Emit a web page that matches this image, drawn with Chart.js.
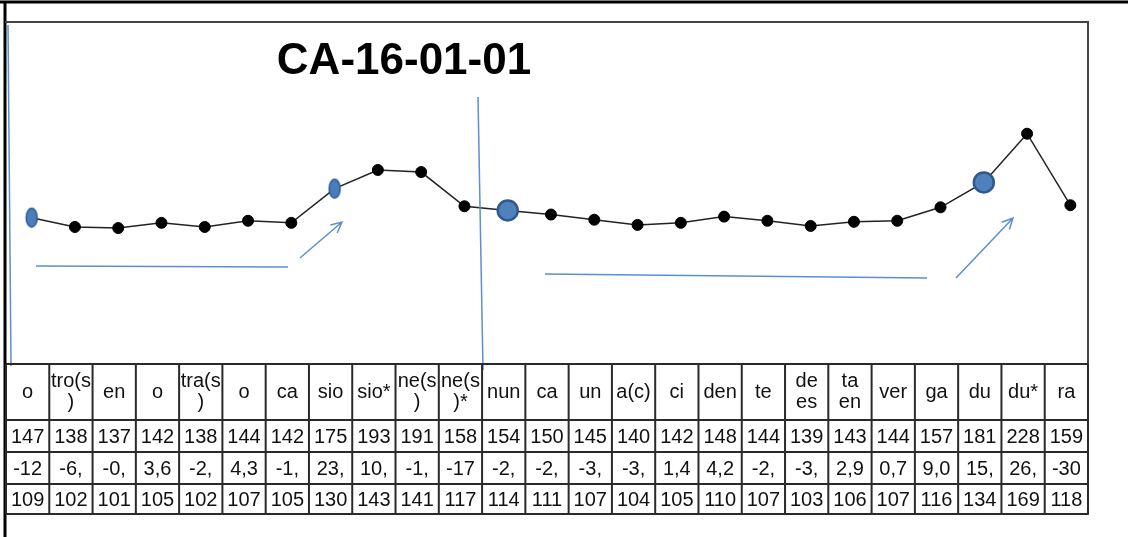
<!DOCTYPE html>
<html>
<head>
<meta charset="utf-8">
<script src="https://cdn.jsdelivr.net/npm/chart.js@4.4.1/dist/chart.umd.min.js"></script>
<style>
    html, body { margin: 0; padding: 0; background: #fff; }
    #wrap { position: relative; width: 1128px; height: 537px; }
</style>
</head>
<body>
<div id="wrap">
    <canvas id="caChart" width="1128" height="537"></canvas>
</div>
<script>
// данные
const chartTitle = 'CA-16-01-01';
const categories = [['o'], ['tro(s', ')'], ['en'], ['o'], ['tra(s', ')'], ['o'], ['ca'], ['sio'], ['sio*'],
    ['ne(s', ')'], ['ne(s', ')*'], ['nun'], ['ca'], ['un'], ['a(c)'], ['ci'], ['den'], ['te'],
    ['de', 'es'], ['ta', 'en'], ['ver'], ['ga'], ['du'], ['du*'], ['ra']];
const values = [147, 138, 137, 142, 138, 144, 142, 175, 193, 191, 158, 154, 150, 145, 140, 142, 148, 144, 139, 143, 144, 157, 181, 228, 159];
const changeRow = ['-12', '-6,', '-0,', '3,6', '-2,', '4,3', '-1,', '23,', '10,', '-1,', '-17', '-2,', '-2,', '-3,', '-3,',
    '1,4', '4,2', '-2,', '-3,', '2,9', '0,7', '9,0', '15,', '26,', '-30'];
const indexRow = [109, 102, 101, 105, 102, 107, 105, 130, 143, 141, 117, 114, 111, 107, 104, 105, 110, 107, 103, 106, 107, 116, 134, 169, 118];
const ovalPoints = [0, 7];
const bigPoints = [11, 22];
const yMin = 0;
const yMax = 330;

// овальный маркер
function makeOval() {
    const c = document.createElement('canvas');
    c.width = 16;
    c.height = 24;
    const g = c.getContext('2d');
    g.beginPath();
    g.ellipse(8, 12, 5.5, 9.5, 0, 0, Math.PI * 2);
    g.fillStyle = '#4a7ebb';
    g.fill();
    g.lineWidth = 1.5;
    g.strokeStyle = '#2f5a8e';
    g.stroke();
    return c;
}
const oval = makeOval();

const FONT = '"Liberation Sans", Arial, sans-serif';
const TABLE_SHIFT = -4;
const rowLines = [364, 420, 452, 484, 514];

const decorPlugin = {
    id: 'decor',
    beforeDraw(chart) {
        const ctx = chart.ctx;
        ctx.save();
        ctx.fillStyle = '#fff';
        ctx.fillRect(0, 0, chart.width, chart.height);
        ctx.restore();
    },
    afterDatasetsDraw(chart) {
        const ctx = chart.ctx;
        ctx.save();
        ctx.strokeStyle = '#5b8fcf';
        ctx.lineWidth = 1.5;
        const segs = [
            [8, 25, 11, 366],
            [478, 97, 483, 370],
            [36, 266, 288, 267],
            [545, 274, 927, 278]
        ];
        segs.forEach(s => {
            ctx.beginPath();
            ctx.moveTo(s[0], s[1]);
            ctx.lineTo(s[2], s[3]);
            ctx.stroke();
        });
        const arrows = [[300, 258, 342, 222], [956, 278, 1013, 218]];
        arrows.forEach(a => {
            ctx.beginPath();
            ctx.moveTo(a[0], a[1]);
            ctx.lineTo(a[2], a[3]);
            const ang = Math.atan2(a[3] - a[1], a[2] - a[0]);
            const len = 12;
            ctx.moveTo(a[2] - len * Math.cos(ang - 0.45), a[3] - len * Math.sin(ang - 0.45));
            ctx.lineTo(a[2], a[3]);
            ctx.lineTo(a[2] - len * Math.cos(ang + 0.45), a[3] - len * Math.sin(ang + 0.45));
            ctx.stroke();
        });
        ctx.restore();
    },
    afterDraw(chart) {
        const ctx = chart.ctx;
        const x = chart.scales.x;
        ctx.save();

        // рамки
        ctx.strokeStyle = '#000';
        ctx.lineWidth = 3;
        ctx.beginPath();
        ctx.moveTo(0, 2);
        ctx.lineTo(1128, 2);
        ctx.moveTo(5, 2);
        ctx.lineTo(5, 537);
        ctx.stroke();
        ctx.strokeStyle = '#444';
        ctx.lineWidth = 2;
        ctx.beginPath();
        ctx.moveTo(5, 22);
        ctx.lineTo(1088, 22);
        ctx.lineTo(1088, 515);
        ctx.stroke();

        // заголовок
        ctx.fillStyle = '#000';
        ctx.font = 'bold 44px ' + FONT;
        ctx.textAlign = 'center';
        ctx.textBaseline = 'middle';
        ctx.fillText(chartTitle, 404, 62);

        // таблица данных
        const half = (x.getPixelForValue(1) - x.getPixelForValue(0)) / 2;
        const left = x.getPixelForValue(0) - half + TABLE_SHIFT;
        const right = x.getPixelForValue(categories.length - 1) + half + TABLE_SHIFT;
        ctx.strokeStyle = '#2a2a2a';
        ctx.lineWidth = 2;
        ctx.beginPath();
        rowLines.forEach(y => {
            ctx.moveTo(left, y);
            ctx.lineTo(right, y);
        });
        for (let i = 0; i <= categories.length; i++) {
            const cx = left + i * half * 2;
            ctx.moveTo(cx, rowLines[0]);
            ctx.lineTo(cx, rowLines[rowLines.length - 1]);
        }
        ctx.stroke();

        ctx.font = '20px ' + FONT;
        ctx.fillStyle = '#111';
        categories.forEach((lab, i) => {
            const cx = x.getPixelForValue(i) + TABLE_SHIFT;
            const mid = (rowLines[0] + rowLines[1]) / 2;
            if (lab.length === 1) {
                ctx.fillText(lab[0], cx, mid);
            } else {
                ctx.fillText(lab[0], cx, mid - 10.5);
                ctx.fillText(lab[1], cx, mid + 10.5);
            }
            ctx.fillText(String(values[i]), cx, (rowLines[1] + rowLines[2]) / 2 + 1);
            ctx.fillText(changeRow[i], cx, (rowLines[2] + rowLines[3]) / 2 + 1);
            ctx.fillText(String(indexRow[i]), cx, (rowLines[3] + rowLines[4]) / 2 + 1);
        });
        ctx.restore();
    }
};

const ctx = document.getElementById('caChart').getContext('2d');
new Chart(ctx, {
    type: 'line',
    data: {
        labels: categories,
        datasets: [{
            data: values,
            borderColor: '#222',
            borderWidth: 1.5,
            tension: 0,
            pointStyle: c => ovalPoints.includes(c.dataIndex) ? oval : 'circle',
            pointRadius: c => bigPoints.includes(c.dataIndex) ? 10 : 5.5,
            pointBackgroundColor: c => bigPoints.includes(c.dataIndex) ? '#4f81bd' : '#000',
            pointBorderColor: c => bigPoints.includes(c.dataIndex) ? '#2f5a8e' : '#000',
            pointBorderWidth: c => bigPoints.includes(c.dataIndex) ? 2.5 : 1
        }]
    },
    options: {
        responsive: false,
        animation: false,
        layout: {
            padding: { left: 10, right: 36, top: 28, bottom: 167 }
        },
        scales: {
            x: { display: false, offset: true },
            y: { display: false, min: yMin, max: yMax }
        },
        plugins: {
            legend: { display: false },
            tooltip: { enabled: false }
        }
    },
    plugins: [decorPlugin]
});
</script>
</body>
</html>
